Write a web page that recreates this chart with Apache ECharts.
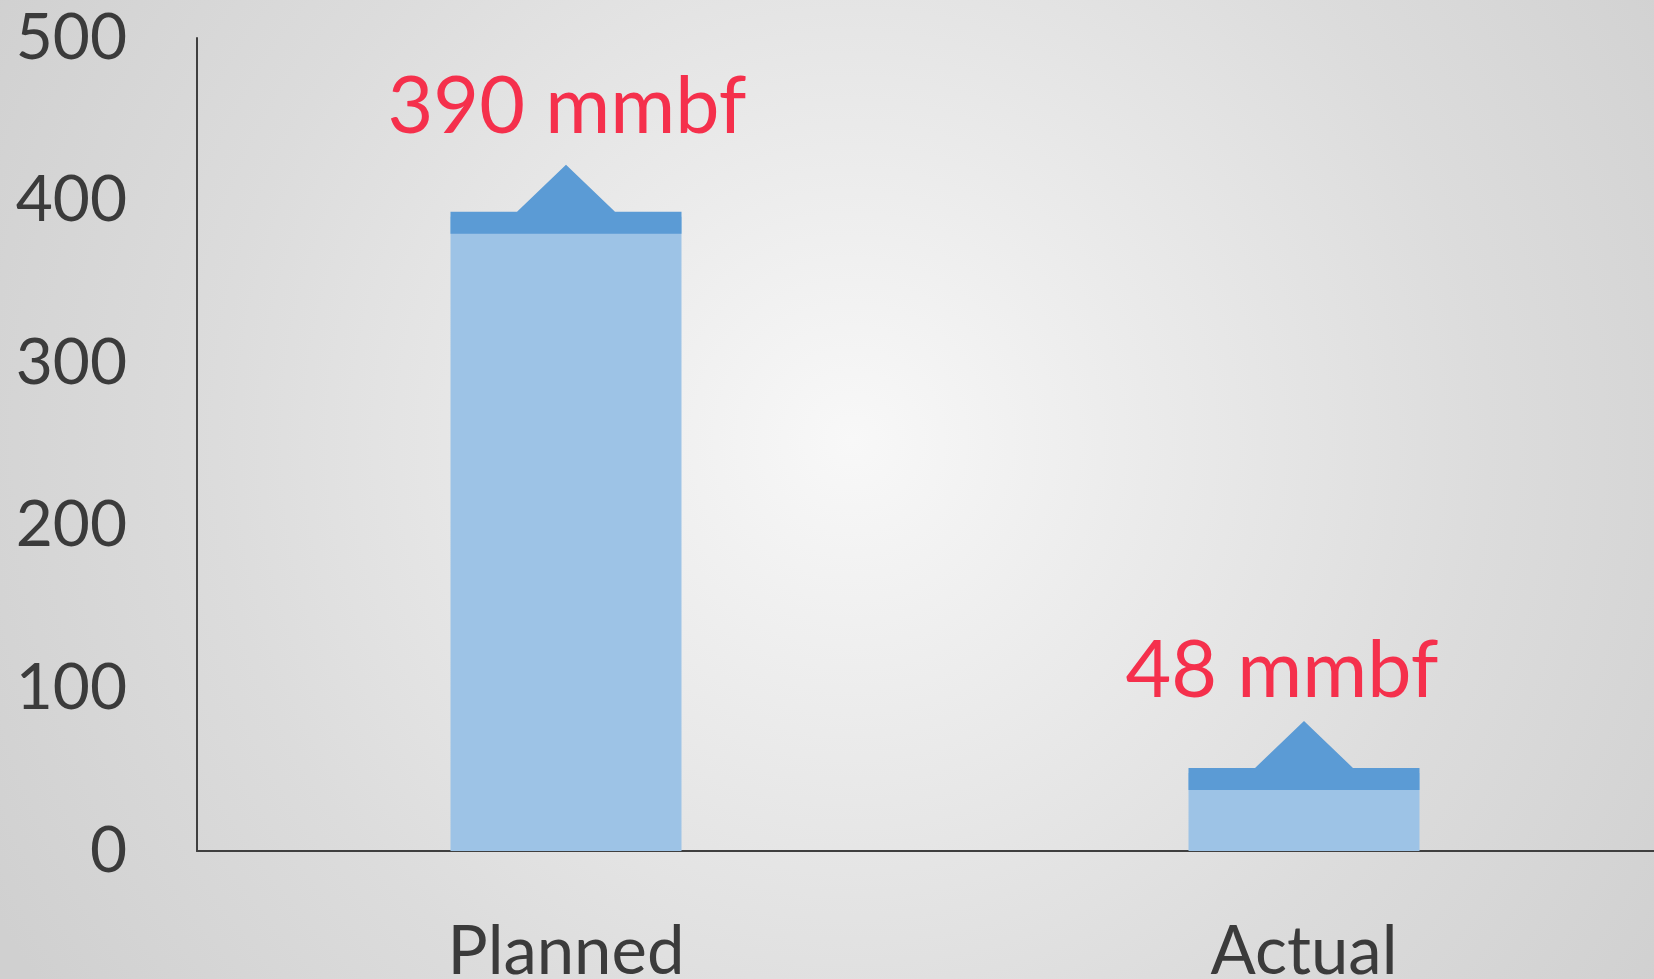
<!DOCTYPE html>
<html>
<head>
<meta charset="utf-8">
<title>Planned vs Actual harvest</title>
<script src="https://cdn.jsdelivr.net/npm/echarts@6/dist/echarts.min.js"></script>
<style>
  html, body { margin: 0; padding: 0; width: 1654px; height: 979px; overflow: hidden; }
  #chart { width: 1654px; height: 979px; }
</style>
</head>
<body>
<div id="chart"></div>
<script>
// Harvest volume, million board feet
const categories = ['Planned', 'Actual'];
const volumes = [390, 48];
const unit = 'mmbf';
const yTicks = [0, 100, 200, 300, 400, 500];

const FONT = 'Lato, "Open Sans", sans-serif';
const TEXT_DARK = '#3b3b3b';
const BAR_LIGHT = '#9DC3E6';
const BAR_DARK = '#5B9BD5';
const LABEL_RED = '#F5304C';
const BAR_W = 231;

// small per-category nudges for the value callouts (dx, dy from arrow tip)
const calloutNudge = [[1, -57], [-22, -49]];

const chart = echarts.init(document.getElementById('chart'), null, { renderer: 'canvas' });

function renderCap(params, api) {
  const idx = params.dataIndex;
  const v = api.value(1);
  const p = api.coord([api.value(0), v]);
  const cx = p[0], top = p[1];
  const half = BAR_W / 2;
  const L = cx - half, R = cx + half;
  const capTop = top - 5, capBot = top + 17;
  const tip = top - 52;
  const tri = 49;
  const nudge = calloutNudge[idx] || [0, -55];
  return {
    type: 'group',
    children: [
      {
        type: 'polygon',
        shape: {
          points: [
            [L, capBot], [L, capTop], [cx - tri, capTop], [cx, tip],
            [cx + tri, capTop], [R, capTop], [R, capBot]
          ]
        },
        style: { fill: BAR_DARK }
      },
      {
        type: 'text',
        x: cx + nudge[0],
        y: tip + nudge[1],
        style: {
          text: v + ' ' + unit,
          fill: LABEL_RED,
          font: '79px ' + FONT,
          align: 'center',
          verticalAlign: 'middle'
        }
      }
    ]
  };
}

const option = {
  animation: false,
  backgroundColor: {
    type: 'radial', x: 0.515, y: 0.45, r: 1.0,
    colorStops: [
      { offset: 0, color: '#f8f8f8' },
      { offset: 0.3, color: '#ebebeb' },
      { offset: 0.65, color: '#dcdcdc' },
      { offset: 1, color: '#d0d0d0' }
    ]
  },
  // the plot runs a little past the right edge of the page
  grid: { left: 197, top: 38, width: 1476, bottom: 128, containLabel: false, outerBoundsMode: 'none' },
  xAxis: {
    type: 'category',
    data: categories,
    axisLine: { show: true, lineStyle: { color: '#3f3f3f', width: 2 } },
    axisTick: { show: false },
    axisLabel: { color: TEXT_DARK, fontSize: 67, fontFamily: FONT, margin: 68 },
    splitLine: { show: false }
  },
  yAxis: {
    type: 'value',
    min: yTicks[0],
    max: yTicks[yTicks.length - 1],
    interval: yTicks[1] - yTicks[0],
    axisLine: { show: true, lineStyle: { color: '#3f3f3f', width: 2 } },
    axisTick: { show: false },
    axisLabel: { color: TEXT_DARK, fontSize: 64, fontFamily: FONT, margin: 70 },
    splitLine: { show: false }
  },
  series: [
    {
      type: 'bar',
      data: volumes,
      barWidth: BAR_W,
      itemStyle: { color: BAR_LIGHT },
      z: 2
    },
    {
      type: 'custom',
      renderItem: renderCap,
      data: volumes.map((v, i) => [i, v]),
      encode: { x: 0, y: 1 },
      z: 3
    }
  ]
};

chart.setOption(option);
</script>
</body>
</html>
